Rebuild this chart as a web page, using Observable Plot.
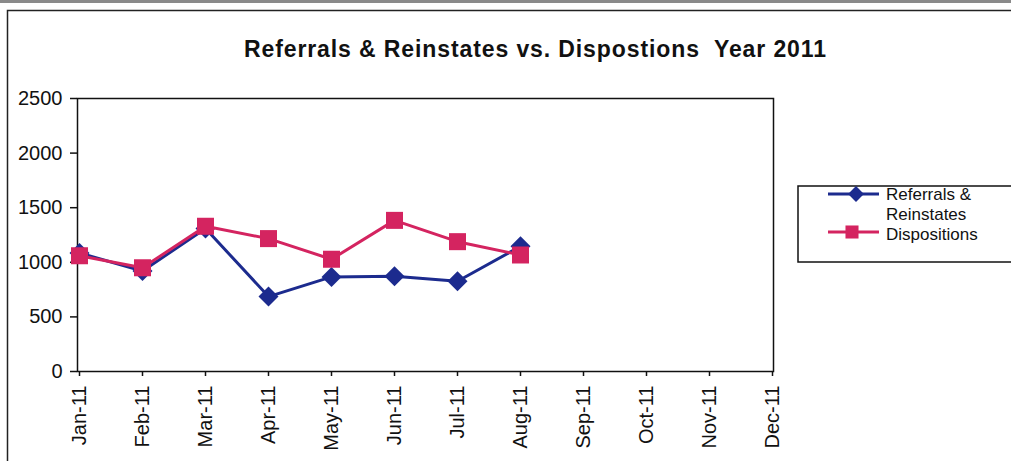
<!DOCTYPE html>
<html>
<head>
<meta charset="utf-8">
<script src="https://cdn.jsdelivr.net/npm/d3@7"></script>
<script src="https://cdn.jsdelivr.net/npm/@observablehq/plot@0.6"></script>
<style>
  html, body { margin: 0; padding: 0; background: white; }
</style>
</head>
<body>
<div id="chart"></div>
<script>
const months = ["Jan-11","Feb-11","Mar-11","Apr-11","May-11","Jun-11","Jul-11","Aug-11","Sep-11","Oct-11","Nov-11","Dec-11"];
const referralMonths = ["Jan-11","Feb-11","Mar-11","Apr-11","May-11","Jun-11","Jul-11","Aug-11"];
const referrals = [1085, 920, 1310, 686, 866, 872, 826, 1146];
const dispositions = [1060, 950, 1330, 1217, 1028, 1384, 1189, 1067];
const yTicks = [0, 500, 1000, 1500, 2000, 2500];
const seriesNames = ["Referrals &", "Reinstates", "Dispositions"];
const titleText = "Referrals & Reinstates vs. Dispostions  Year 2011";

const navy = "#1c2b8e";
const pink = "#d42460";

const refData = referralMonths.map((m, i) => ({month: m, value: referrals[i]}));
const dispData = referralMonths.map((m, i) => ({month: m, value: dispositions[i]}));

const chart = Plot.plot({
  width: 1011,
  height: 461,
  marginLeft: 77,
  marginRight: 238,
  marginTop: 98,
  marginBottom: 90,
  style: {fontFamily: "Liberation Sans, Arial, sans-serif", background: "white", color: "#111"},
  x: {type: "point", domain: months, padding: 0, label: null},
  y: {domain: [0, 2500], label: null},
  marks: [
    Plot.axisY({ticks: yTicks, tickFormat: d => String(d), tickSize: 7, tickPadding: 8, fontSize: 20, label: null, stroke: "#111", strokeWidth: 1.5, fill: "#111"}),
    Plot.axisX({tickSize: 5, tickPadding: 9, tickRotate: -90, fontSize: 20, label: null, stroke: "#111", strokeWidth: 1.5, fill: "#111"}),
    Plot.frame({stroke: "#111", strokeWidth: 1.5}),
    Plot.line(refData, {x: "month", y: "value", stroke: navy, strokeWidth: 3}),
    Plot.dot(refData, {x: "month", y: "value", symbol: "diamond2", r: 9, fill: navy}),
    Plot.line(dispData, {x: "month", y: "value", stroke: pink, strokeWidth: 3}),
    Plot.dot(dispData, {x: "month", y: "value", symbol: "square", r: 9.6, fill: pink})
  ]
});

const svg = d3.select(chart);
// scan top band and outer chart border
svg.append("rect").attr("x", 0).attr("y", 0).attr("width", 1011).attr("height", 3).attr("fill", "#8a8a8a");
svg.append("path").attr("d", "M7.5,461V10.5H1011").attr("fill", "none").attr("stroke", "#222").attr("stroke-width", 1.5);

// title
svg.append("text")
  .attr("x", 244).attr("y", 57)
  .attr("text-anchor", "start")
  .attr("font-size", 23).attr("font-weight", "bold")
  .attr("fill", "#111")
  .attr("textLength", 582).attr("lengthAdjust", "spacing")
  .style("white-space", "pre")
  .text(titleText);

// legend
const lg = svg.append("g").attr("text-anchor", "start");
lg.append("rect").attr("x", 798).attr("y", 186).attr("width", 300).attr("height", 76)
  .attr("fill", "white").attr("stroke", "#111").attr("stroke-width", 1.5);
lg.append("line").attr("x1", 828).attr("x2", 879).attr("y1", 194).attr("y2", 194).attr("stroke", navy).attr("stroke-width", 3);
lg.append("path").attr("d", d3.symbol(d3.symbolDiamond2, 160)()).attr("transform", "translate(856,194)").attr("fill", navy);
lg.append("line").attr("x1", 828).attr("x2", 879).attr("y1", 232).attr("y2", 232).attr("stroke", pink).attr("stroke-width", 3);
lg.append("path").attr("d", d3.symbol(d3.symbolSquare, 170)()).attr("transform", "translate(852,232)").attr("fill", pink);
const lgY = [200, 220, 240];
seriesNames.forEach((t, i) => {
  lg.append("text").attr("x", 886).attr("y", lgY[i]).attr("text-anchor", "start").attr("font-size", 17).attr("fill", "#111").text(t);
});

document.getElementById("chart").appendChild(chart);
</script>
</body>
</html>
